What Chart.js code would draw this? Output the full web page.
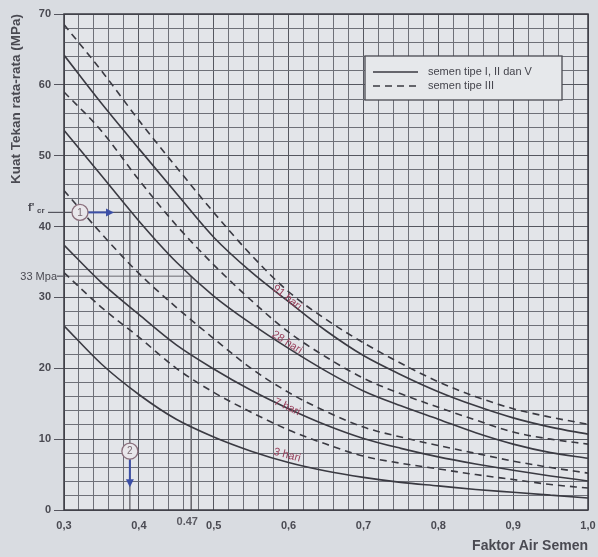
<!DOCTYPE html>
<html>
<head>
<meta charset="utf-8">
<script src="https://cdn.jsdelivr.net/npm/chart.js@4"></script>
<style>
  html, body { margin: 0; padding: 0; background: #d9dce1; }
  canvas { display: block; }
</style>
</head>
<body>
<canvas id="chart" width="598" height="557"></canvas>
<script>
// water-cement ratio (x)
const wcRatio = [0.30, 0.35, 0.40, 0.45, 0.50, 0.55, 0.60, 0.65, 0.70, 0.75, 0.80, 0.85, 0.90, 0.95, 1.00];

// semen tipe I, II dan V (solid)
const tipeI_3 = [26.0, 20.6, 16.3, 12.8, 10.3, 8.3, 6.7, 5.5, 4.6, 3.9, 3.4, 2.9, 2.5, 2.1, 1.7];
const tipeI_7 = [37.4, 32.1, 27.6, 23.3, 19.9, 16.9, 14.3, 12.0, 10.1, 8.7, 7.5, 6.5, 5.6, 4.8, 4.1];
const tipeI_28 = [53.6, 47.2, 40.8, 35.0, 30.2, 26.3, 22.8, 19.6, 16.8, 14.7, 12.8, 10.9, 9.3, 8.1, 7.3];
const tipeI_91 = [64.2, 57.4, 51.0, 44.7, 38.5, 33.6, 29.4, 25.3, 21.8, 19.1, 16.7, 14.7, 13.0, 11.7, 10.7];

// semen tipe III (dashed)
const tipeIII_3 = [33.5, 28.6, 24.4, 20.0, 16.6, 13.8, 11.3, 9.3, 7.6, 6.6, 5.8, 5.0, 4.3, 3.6, 3.1];
const tipeIII_7 = [45.1, 39.0, 33.4, 28.6, 24.2, 20.0, 16.6, 13.9, 11.7, 10.3, 9.1, 8.0, 6.9, 6.0, 5.2];
const tipeIII_28 = [59.0, 53.5, 46.6, 40.2, 34.6, 29.6, 25.1, 21.6, 18.6, 16.4, 14.5, 12.7, 11.0, 10.0, 9.3];
const tipeIII_91 = [68.5, 62.0, 55.0, 48.4, 42.0, 36.0, 30.8, 26.9, 23.6, 20.7, 18.1, 16.0, 14.3, 13.1, 12.1];

const ageLabels = ["3 hari", "7 hari", "28 hari", "91 hari"];
const legendLabels = ["semen tipe I, II dan V", "semen tipe III"];

// worked example lines
const fcrStrength = 42;     // f'cr
const fcrRatio = 0.388;
const targetStrength = 33;  // 33 Mpa
const targetRatio = 0.47;

const FONT = "'Liberation Sans', Arial, sans-serif";
const INK = "#3a3a42";

const toPoints = (arr) => wcRatio.map((x, i) => ({ x, y: arr[i] }));

const curve = (label, arr, dashed) => ({
  label,
  data: toPoints(arr),
  borderColor: INK,
  borderWidth: 1.6,
  borderDash: dashed ? [7, 5] : [],
  pointRadius: 0,
  fill: false,
  cubicInterpolationMode: "monotone",
});

const solidSets = [tipeI_3, tipeI_7, tipeI_28, tipeI_91];
const dashedSets = [tipeIII_3, tipeIII_7, tipeIII_28, tipeIII_91];

const datasets = [];
ageLabels.forEach((age, i) => {
  datasets.push(curve(legendLabels[0] + " " + age, solidSets[i], false));
  datasets.push(curve(legendLabels[1] + " " + age, dashedSets[i], true));
});
datasets.push({
  label: "fcr",
  data: [{ x: 0.3, y: fcrStrength }, { x: fcrRatio, y: fcrStrength }, { x: fcrRatio, y: 0 }],
  borderColor: "#55555e", borderWidth: 1.2, pointRadius: 0, fill: false,
});
datasets.push({
  label: "target",
  data: [{ x: 0.3, y: targetStrength }, { x: targetRatio, y: targetStrength }, { x: targetRatio, y: 0 }],
  borderColor: "#6a6a70", borderWidth: 1, pointRadius: 0, fill: false,
});

function interp(arr, x) {
  for (let i = 0; i < wcRatio.length - 1; i++) {
    if (x >= wcRatio[i] && x <= wcRatio[i + 1]) {
      const t = (x - wcRatio[i]) / (wcRatio[i + 1] - wcRatio[i]);
      return arr[i] + t * (arr[i + 1] - arr[i]);
    }
  }
  return arr[arr.length - 1];
}

function arrow(ctx, x1, y1, x2, y2) {
  const ang = Math.atan2(y2 - y1, x2 - x1);
  ctx.beginPath();
  ctx.moveTo(x1, y1);
  ctx.lineTo(x2 - 6 * Math.cos(ang), y2 - 6 * Math.sin(ang));
  ctx.stroke();
  ctx.beginPath();
  ctx.moveTo(x2, y2);
  ctx.lineTo(x2 - 8 * Math.cos(ang) + 4 * Math.sin(ang), y2 - 8 * Math.sin(ang) - 4 * Math.cos(ang));
  ctx.lineTo(x2 - 8 * Math.cos(ang) - 4 * Math.sin(ang), y2 - 8 * Math.sin(ang) + 4 * Math.cos(ang));
  ctx.closePath();
  ctx.fill();
}

function marker(ctx, x, y, txt) {
  ctx.beginPath();
  ctx.arc(x, y, 8, 0, Math.PI * 2);
  ctx.fillStyle = "#e9e7eb";
  ctx.fill();
  ctx.lineWidth = 1.3;
  ctx.strokeStyle = "#8a6f7c";
  ctx.stroke();
  ctx.fillStyle = "#7a6a72";
  ctx.font = "10px " + FONT;
  ctx.textAlign = "center";
  ctx.textBaseline = "middle";
  ctx.fillText(txt, x, y + 0.5);
}

const decor = {
  id: "decor",
  beforeDraw(chart) {
    const { ctx, chartArea: a } = chart;
    ctx.save();
    ctx.fillStyle = "#d9dce1";
    ctx.fillRect(0, 0, chart.width, chart.height);
    ctx.fillStyle = "#e3e5e9";
    ctx.fillRect(a.left, a.top, a.right - a.left, a.bottom - a.top);
    ctx.restore();
  },
  afterDatasetsDraw(chart) {
    const { ctx, chartArea: a } = chart;
    const xs = chart.scales.x, ys = chart.scales.y;
    ctx.save();

    // frame
    ctx.strokeStyle = "#3c3c44";
    ctx.lineWidth = 1.5;
    ctx.strokeRect(a.left, a.top, a.right - a.left, a.bottom - a.top);

    // curve labels, laid along the solid curves
    const lx = 0.598;
    const lift = [7, 1, 5, 3];
    ctx.fillStyle = "#983e5a";
    ctx.font = "11px " + FONT;
    ctx.textAlign = "center";
    ctx.textBaseline = "middle";
    solidSets.forEach((arr, i) => {
      const px = xs.getPixelForValue(lx);
      const py = ys.getPixelForValue(interp(arr, lx));
      const p1 = { x: xs.getPixelForValue(lx - 0.03), y: ys.getPixelForValue(interp(arr, lx - 0.03)) };
      const p2 = { x: xs.getPixelForValue(lx + 0.03), y: ys.getPixelForValue(interp(arr, lx + 0.03)) };
      ctx.save();
      ctx.translate(px, py - lift[i]);
      ctx.rotate(Math.atan2(p2.y - p1.y, p2.x - p1.x));
      ctx.fillText(ageLabels[i], 0, 0);
      ctx.restore();
    });

    // legend
    const lx0 = 365, ly0 = 56, lw = 197, lh = 44;
    ctx.fillStyle = "#e6e8eb";
    ctx.fillRect(lx0, ly0, lw, lh);
    ctx.strokeStyle = "#4a4a52";
    ctx.lineWidth = 1.3;
    ctx.strokeRect(lx0, ly0, lw, lh);
    ctx.strokeStyle = INK;
    ctx.lineWidth = 1.4;
    [72, 86].forEach((yy, i) => {
      ctx.setLineDash(i === 1 ? [7, 5] : []);
      ctx.beginPath();
      ctx.moveTo(373, yy);
      ctx.lineTo(418, yy);
      ctx.stroke();
    });
    ctx.setLineDash([]);
    ctx.fillStyle = "#45454d";
    ctx.font = "11px " + FONT;
    ctx.textAlign = "left";
    ctx.textBaseline = "middle";
    ctx.fillText(legendLabels[0], 428, 72);
    ctx.fillText(legendLabels[1], 428, 86);

    // f'cr label and tick
    const yF = ys.getPixelForValue(fcrStrength);
    ctx.strokeStyle = "#55555e";
    ctx.lineWidth = 1.2;
    ctx.beginPath();
    ctx.moveTo(48, yF);
    ctx.lineTo(a.left, yF);
    ctx.stroke();
    ctx.fillStyle = "#4a4a52";
    ctx.textAlign = "left";
    ctx.textBaseline = "alphabetic";
    ctx.font = "bold 11px " + FONT;
    ctx.fillText("f'", 28, yF - 1);
    ctx.font = "bold 8px " + FONT;
    ctx.fillText("cr", 37, yF + 1);

    // 33 Mpa label and tick
    const y33 = ys.getPixelForValue(targetStrength);
    ctx.beginPath();
    ctx.moveTo(57, y33);
    ctx.lineTo(a.left, y33);
    ctx.stroke();
    ctx.font = "11px " + FONT;
    ctx.textAlign = "right";
    ctx.textBaseline = "middle";
    ctx.fillText("33 Mpa", 57, y33 + 1);

    // 0.47 label
    ctx.font = "bold 11px " + FONT;
    ctx.textAlign = "center";
    ctx.textBaseline = "middle";
    ctx.fillStyle = "#5a5a62";
    ctx.fillText("0.47", xs.getPixelForValue(targetRatio) - 4, a.bottom + 12);

    // markers and blue arrows
    const xF = xs.getPixelForValue(fcrRatio);
    ctx.strokeStyle = "#3c4fa6";
    ctx.fillStyle = "#3c4fa6";
    ctx.lineWidth = 2;
    arrow(ctx, a.left + 24, yF, a.left + 50, yF);
    const y2 = ys.getPixelForValue(8.3);
    arrow(ctx, xF, y2 + 8, xF, y2 + 36);
    marker(ctx, a.left + 16, yF, "1");
    marker(ctx, xF, y2, "2");

    ctx.restore();
  },
};

const isMajor = (v, step) => Math.abs(v / step - Math.round(v / step)) < 1e-6;

new Chart(document.getElementById("chart"), {
  type: "line",
  data: { datasets },
  plugins: [decor],
  options: {
    responsive: false,
    animation: false,
    devicePixelRatio: 1,
    layout: { padding: { left: 8, right: 10, top: 14, bottom: 0 } },
    plugins: { legend: { display: false }, tooltip: { enabled: false } },
    scales: {
      x: {
        type: "linear",
        min: 0.3,
        max: 1.0,
        afterBuildTicks: (scale) => {
          const t = [];
          for (let i = 0; i <= 35; i++) t.push({ value: Math.round((0.3 + i * 0.02) * 100) / 100 });
          scale.ticks = t;
        },
        afterFit: (scale) => {
          scale.height = 47;
          scale.paddingLeft = 0;
          scale.paddingRight = 0;
        },
        grid: {
          color: (c) => (c.tick && isMajor(c.tick.value, 0.1) ? "#55575f" : "#6e7078"),
          lineWidth: 1,
          drawTicks: false,
        },
        border: { display: false },
        ticks: {
          autoSkip: false,
          maxRotation: 0,
          padding: 9,
          color: "#4a4a52",
          font: { family: FONT, size: 11, weight: "bold" },
          callback: (v) => (isMajor(v, 0.1) ? v.toFixed(1).replace(".", ",") : ""),
        },
        title: {
          display: true,
          text: "Faktor Air Semen",
          align: "end",
          color: "#4a4a52",
          font: { family: FONT, size: 14, weight: "bold" },
          padding: { top: 0, bottom: 2 },
        },
      },
      y: {
        type: "linear",
        min: 0,
        max: 70,
        afterBuildTicks: (scale) => {
          const t = [];
          for (let v = 0; v <= 70; v += 2) t.push({ value: v });
          scale.ticks = t;
        },
        afterFit: (scale) => {
          scale.width = 56;
          scale.paddingTop = 0;
          scale.paddingBottom = 0;
        },
        grid: {
          color: (c) => (c.tick && isMajor(c.tick.value, 10) ? "#55575f" : "#6e7078"),
          lineWidth: 1,
          tickLength: 10,
          tickColor: (c) => (c.tick && isMajor(c.tick.value, 10) ? "#55555e" : "rgba(0,0,0,0)"),
        },
        border: { display: false },
        ticks: {
          autoSkip: false,
          padding: 3,
          color: "#4a4a52",
          font: { family: FONT, size: 11, weight: "bold" },
          callback: (v) => (isMajor(v, 10) ? String(v) : ""),
        },
        title: {
          display: true,
          text: "Kuat Tekan rata-rata (MPa)",
          align: "end",
          color: "#4a4a52",
          font: { family: FONT, size: 13.5, weight: "bold" },
          padding: { top: 0, bottom: 0 },
        },
      },
    },
  },
});
</script>
</body>
</html>
